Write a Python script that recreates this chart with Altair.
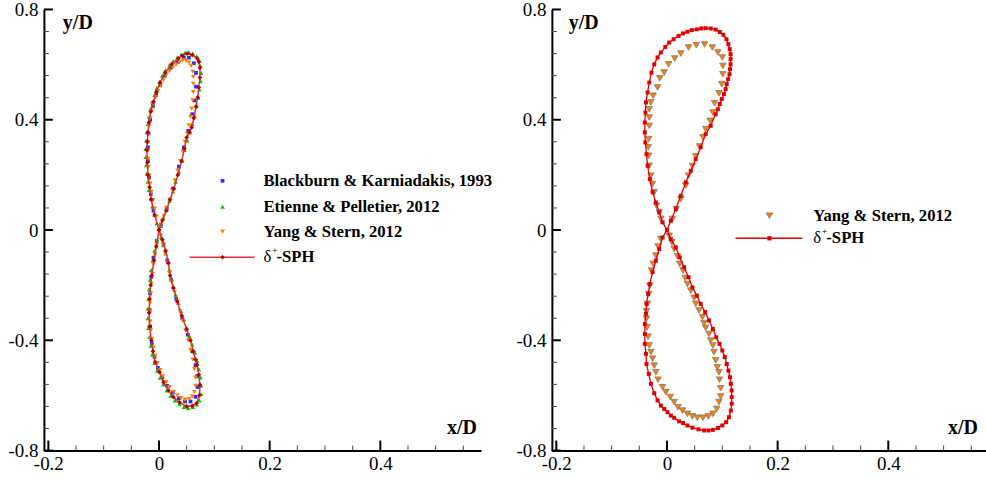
import altair as alt
import pandas as pd

# ---------------- data: left panel ----------------
L_sph_x = [0.000, 0.006, 0.013, 0.020, 0.027, 0.034, 0.041, 0.046, 0.050, 0.055, 0.059, 0.063, 0.067, 0.070, 0.072, 0.074, 0.074, 0.072, 0.069, 0.060, 0.051, 0.042, 0.035, 0.023, 0.011, 0.002, -0.005, -0.010, -0.015, -0.018, -0.020, -0.021, -0.022, -0.021, -0.020, -0.017, -0.014, -0.008,
           0.000, 0.006, 0.012, 0.017, 0.020, 0.026, 0.033, 0.041, 0.050, 0.057, 0.062, 0.066, 0.069, 0.072, 0.074, 0.073, 0.068, 0.060, 0.050, 0.037, 0.026, 0.017, 0.008, 0.001, -0.007, -0.011, -0.014, -0.017, -0.018, -0.017, -0.015, -0.013, -0.009, -0.005, 0.000]
L_sph_y = [0.000, 0.035, 0.070, 0.110, 0.150, 0.200, 0.250, 0.295, 0.336, 0.355, 0.372, 0.406, 0.448, 0.481, 0.517, 0.553, 0.589, 0.610, 0.622, 0.635, 0.640, 0.633, 0.622, 0.601, 0.571, 0.535, 0.501, 0.465, 0.429, 0.390, 0.354, 0.320, 0.290, 0.245, 0.200, 0.155, 0.110, 0.055,
           0.000, -0.035, -0.075, -0.120, -0.165, -0.210, -0.260, -0.310, -0.360, -0.400, -0.440, -0.470, -0.489, -0.525, -0.562, -0.600, -0.628, -0.638, -0.640, -0.625, -0.606, -0.582, -0.552, -0.516, -0.479, -0.440, -0.400, -0.350, -0.300, -0.250, -0.200, -0.165, -0.110, -0.060, 0.000]

L_et_x = [0.003, 0.008, 0.014, 0.019, 0.025, 0.030, 0.036, 0.041, 0.046, 0.051, 0.056, 0.060, 0.064, 0.068, 0.071, 0.073, 0.075, 0.076, 0.075, 0.073, 0.068, 0.061, 0.054, 0.047, 0.040, 0.033, 0.026, 0.019, 0.012, 0.006, 0.001, -0.004, -0.008, -0.012, -0.015, -0.018, -0.020, -0.022, -0.023, -0.024, -0.024, -0.023, -0.022, -0.020, -0.018, -0.015, -0.012, -0.008, -0.004,
          0.004, 0.008, 0.012, 0.016, 0.019, 0.022, 0.026, 0.030, 0.035, 0.040, 0.045, 0.050, 0.055, 0.060, 0.065, 0.069, 0.072, 0.075, 0.076, 0.076, 0.073, 0.068, 0.061, 0.053, 0.045, 0.037, 0.029, 0.021, 0.014, 0.008, 0.002, -0.003, -0.008, -0.012, -0.015, -0.017, -0.019, -0.020, -0.020, -0.019, -0.018, -0.016, -0.014, -0.011, -0.008, -0.004]
L_et_y = [0.015, 0.045, 0.075, 0.105, 0.140, 0.175, 0.210, 0.250, 0.290, 0.325, 0.355, 0.385, 0.415, 0.450, 0.480, 0.510, 0.540, 0.570, 0.595, 0.615, 0.630, 0.640, 0.645, 0.643, 0.636, 0.626, 0.613, 0.598, 0.580, 0.560, 0.538, 0.515, 0.490, 0.465, 0.440, 0.412, 0.385, 0.355, 0.325, 0.295, 0.265, 0.235, 0.205, 0.175, 0.145, 0.115, 0.085, 0.055, 0.025,
          -0.025, -0.055, -0.085, -0.115, -0.145, -0.175, -0.205, -0.235, -0.265, -0.295, -0.325, -0.355, -0.385, -0.415, -0.445, -0.475, -0.505, -0.535, -0.565, -0.595, -0.618, -0.633, -0.642, -0.646, -0.642, -0.632, -0.618, -0.601, -0.582, -0.560, -0.536, -0.510, -0.482, -0.452, -0.420, -0.388, -0.355, -0.320, -0.285, -0.250, -0.215, -0.180, -0.145, -0.110, -0.075, -0.040]

L_bk_x = [0.004, 0.014, 0.025, 0.036, 0.045, 0.053, 0.060, 0.064, 0.067, 0.067, 0.063, 0.054, 0.045, 0.034, 0.022, 0.011, 0.002, -0.005, -0.011, -0.016, -0.019, -0.020, -0.020, -0.018, -0.015, -0.010,
          0.008, 0.015, 0.022, 0.031, 0.042, 0.052, 0.060, 0.066, 0.069, 0.070, 0.066, 0.057, 0.047, 0.036, 0.025, 0.015, 0.006, -0.002, -0.008, -0.013, -0.016, -0.017, -0.016, -0.014, -0.010, -0.004]
L_bk_y = [0.020, 0.080, 0.150, 0.230, 0.300, 0.360, 0.420, 0.470, 0.520, 0.570, 0.605, 0.625, 0.625, 0.610, 0.590, 0.560, 0.525, 0.490, 0.450, 0.400, 0.350, 0.300, 0.250, 0.190, 0.130, 0.070,
          -0.050, -0.110, -0.180, -0.250, -0.320, -0.380, -0.440, -0.490, -0.530, -0.570, -0.605, -0.622, -0.622, -0.610, -0.590, -0.565, -0.535, -0.500, -0.460, -0.410, -0.350, -0.290, -0.230, -0.170, -0.100, -0.040]

L_ys_x = [0.004, 0.009, 0.014, 0.019, 0.024, 0.029, 0.034, 0.039, 0.043, 0.047, 0.051, 0.054, 0.057, 0.059, 0.061, 0.062, 0.062, 0.062, 0.061, 0.058, 0.054, 0.049, 0.043, 0.037, 0.031, 0.025, 0.019, 0.013, 0.008, 0.003, -0.002, -0.006, -0.010, -0.013, -0.016, -0.018, -0.019, -0.020, -0.020, -0.020, -0.019, -0.018, -0.016, -0.014, -0.011, -0.008, -0.005,
          0.003, 0.007, 0.011, 0.015, 0.019, 0.023, 0.028, 0.033, 0.038, 0.043, 0.048, 0.053, 0.057, 0.061, 0.064, 0.066, 0.066, 0.064, 0.060, 0.054, 0.047, 0.040, 0.033, 0.026, 0.019, 0.013, 0.007, 0.002, -0.003, -0.007, -0.010, -0.013, -0.015, -0.016, -0.016, -0.016, -0.015, -0.014, -0.012, -0.010, -0.007, -0.004]
L_ys_y = [0.020, 0.050, 0.080, 0.110, 0.145, 0.180, 0.215, 0.250, 0.285, 0.320, 0.350, 0.380, 0.410, 0.440, 0.470, 0.500, 0.530, 0.555, 0.575, 0.595, 0.607, 0.614, 0.615, 0.609, 0.600, 0.589, 0.576, 0.561, 0.544, 0.525, 0.504, 0.482, 0.458, 0.432, 0.405, 0.377, 0.348, 0.318, 0.288, 0.258, 0.228, 0.198, 0.168, 0.138, 0.108, 0.078, 0.048,
          -0.020, -0.050, -0.085, -0.120, -0.155, -0.190, -0.225, -0.260, -0.295, -0.330, -0.365, -0.400, -0.435, -0.470, -0.505, -0.535, -0.565, -0.588, -0.604, -0.613, -0.616, -0.610, -0.600, -0.587, -0.570, -0.552, -0.531, -0.508, -0.483, -0.456, -0.427, -0.396, -0.364, -0.331, -0.297, -0.263, -0.229, -0.195, -0.160, -0.125, -0.090, -0.055]

# ---------------- data: right panel ----------------
R_sph_x = [0.000, 0.007, 0.016, 0.025, 0.034, 0.043, 0.052, 0.061, 0.070, 0.079, 0.088, 0.092, 0.0955, 0.099, 0.103, 0.106, 0.108, 0.1105, 0.113, 0.114, 0.115, 0.115, 0.115, 0.1135, 0.111, 0.1075, 0.102, 0.0955, 0.088, 0.079, 0.070, 0.062, 0.054, 0.045, 0.037, 0.029, 0.021, 0.012, 0.004, -0.003, -0.011, -0.017, -0.023, -0.028, -0.032, -0.035, -0.038, -0.039, -0.040, -0.040, -0.039, -0.037, -0.035, -0.031, -0.026, -0.020, -0.014, -0.008,
           0.000, 0.007, 0.016, 0.023, 0.031, 0.039, 0.046, 0.054, 0.061, 0.069, 0.076, 0.083, 0.089, 0.095, 0.100, 0.1045, 0.108, 0.111, 0.114, 0.1155, 0.117, 0.117, 0.117, 0.1155, 0.112, 0.107, 0.100, 0.092, 0.083, 0.075, 0.067, 0.057, 0.046, 0.037, 0.029, 0.022, 0.013, 0.007, 0.001, -0.005, -0.011, -0.017, -0.023, -0.029, -0.033, -0.037, -0.038, -0.040, -0.040, -0.040, -0.038, -0.037, -0.034, -0.031, -0.026, -0.020, -0.014, -0.008, 0.000]
R_sph_y = [0.000, 0.034, 0.076, 0.124, 0.173, 0.215, 0.257, 0.300, 0.348, 0.378, 0.420, 0.438, 0.457, 0.475, 0.493, 0.511, 0.529, 0.547, 0.565, 0.583, 0.601, 0.620, 0.638, 0.656, 0.674, 0.692, 0.708, 0.718, 0.727, 0.731, 0.732, 0.731, 0.728, 0.725, 0.719, 0.713, 0.704, 0.692, 0.680, 0.664, 0.644, 0.626, 0.601, 0.571, 0.535, 0.499, 0.463, 0.426, 0.390, 0.354, 0.318, 0.275, 0.233, 0.185, 0.137, 0.100, 0.064, 0.028,
           0.000, -0.033, -0.063, -0.099, -0.135, -0.171, -0.208, -0.238, -0.268, -0.298, -0.328, -0.359, -0.389, -0.413, -0.437, -0.461, -0.486, -0.510, -0.534, -0.558, -0.582, -0.606, -0.630, -0.655, -0.679, -0.697, -0.709, -0.718, -0.725, -0.727, -0.727, -0.723, -0.717, -0.709, -0.700, -0.694, -0.681, -0.673, -0.661, -0.649, -0.637, -0.618, -0.592, -0.558, -0.522, -0.486, -0.449, -0.413, -0.377, -0.341, -0.304, -0.268, -0.232, -0.196, -0.153, -0.111, -0.069, -0.027, 0.000]

R_ys_x = [0.039, 0.053, 0.068, 0.082, 0.092, 0.100, 0.101, 0.101, 0.099, 0.094, 0.086, 0.083, 0.078, 0.070, 0.065, 0.059, 0.052, 0.046, 0.039, 0.034, 0.025, 0.017, 0.010,
          -0.011, -0.014, -0.019, -0.023, -0.026, -0.029, -0.032, -0.033, -0.034, -0.033, -0.032, -0.032, -0.032, -0.029, -0.025, -0.017, -0.013, -0.005, 0.003, 0.014, 0.025,
          -0.011, -0.016, -0.020, -0.025, -0.028, -0.031, -0.033, -0.035, -0.037, -0.037, -0.036, -0.034, -0.032, -0.029, -0.026, -0.023, -0.020, -0.016, -0.008, -0.002, 0.006, 0.013, 0.020, 0.028, 0.037, 0.046, 0.055, 0.065, 0.075, 0.083, 0.090, 0.094, 0.097, 0.097, 0.095, 0.094, 0.091, 0.088, 0.085, 0.083, 0.079, 0.076, 0.070, 0.067, 0.064, 0.058, 0.052, 0.049, 0.043, 0.037, 0.033, 0.029, 0.023, 0.019, 0.013, 0.009, 0.004]
R_ys_y = [0.662, 0.670, 0.673, 0.662, 0.644, 0.626, 0.595, 0.565, 0.529, 0.496, 0.460, 0.426, 0.396, 0.366, 0.336, 0.303, 0.267, 0.232, 0.197, 0.161, 0.112, 0.076, 0.040,
          0.040, 0.064, 0.088, 0.137, 0.167, 0.197, 0.233, 0.269, 0.300, 0.330, 0.378, 0.408, 0.438, 0.463, 0.487, 0.517, 0.550, 0.571, 0.601, 0.622, 0.640,
          -0.033, -0.060, -0.093, -0.123, -0.147, -0.202, -0.232, -0.268, -0.295, -0.322, -0.353, -0.387, -0.419, -0.443, -0.467, -0.492, -0.516, -0.543, -0.570, -0.588, -0.606, -0.624, -0.643, -0.655, -0.667, -0.676, -0.681, -0.681, -0.676, -0.667, -0.649, -0.624, -0.604, -0.574, -0.543, -0.516, -0.498, -0.473, -0.443, -0.419, -0.401, -0.377, -0.355, -0.338, -0.316, -0.292, -0.268, -0.246, -0.220, -0.196, -0.174, -0.147, -0.123, -0.095, -0.069, -0.045, -0.021]

# ---------------- axes ----------------
X_MAJOR = [-0.2, 0.0, 0.2, 0.4]
X_MINOR = [-0.15, -0.1, -0.05, 0.05, 0.1, 0.15, 0.25, 0.3, 0.35, 0.45, 0.5, 0.55]
Y_MAJOR = [-0.8, -0.4, 0.0, 0.4, 0.8]
Y_MINOR = [-0.72, -0.64, -0.56, -0.48, -0.32, -0.24, -0.16, -0.08, 0.08, 0.16, 0.24, 0.32, 0.48, 0.56, 0.64, 0.72]

XMIN = -0.208
L_XMAX = 0.582
R_XMAX = 0.5766
PW_L = 438
PW_R = 435
PH = 442
FONT = "Liberation Serif"
LEG = 16.7
LBL = "datum.value == 0 ? '0' : (datum.value < 0 ? '-' + format(-datum.value, '.1f') : format(datum.value, '.1f'))"

one = pd.DataFrame({"a": [0]})


def pts(xs, ys):
    return pd.DataFrame({"x": xs, "y": ys, "i": list(range(len(xs)))})


def enc(xmax):
    X = alt.X("x:Q", scale=alt.Scale(domain=[XMIN, xmax], nice=False, zero=False),
              axis=alt.Axis(values=X_MAJOR, labelExpr=LBL, ticks=False, grid=False,
                            domainColor="black", domainWidth=2, labelFont=FONT,
                            labelFontSize=19, labelColor="black", labelPadding=4,
                            labelFlush=False, title=None))
    Y = alt.Y("y:Q", scale=alt.Scale(domain=[-0.8, 0.8], nice=False, zero=False),
              axis=alt.Axis(values=Y_MAJOR, labelExpr=LBL, ticks=False, grid=False,
                            domainColor="black", domainWidth=2, labelFont=FONT,
                            labelFontSize=19, labelColor="black", labelPadding=6,
                            labelFlush=False, title=None))
    return X, Y


def tick_layers(X, Y):
    return [
        alt.Chart(pd.DataFrame({"x": X_MAJOR})).mark_rule(color="black", strokeWidth=2).encode(
            x=X, y=alt.value(PH), y2=alt.value(PH - 10)),
        alt.Chart(pd.DataFrame({"x": X_MINOR})).mark_rule(color="#444", strokeWidth=1).encode(
            x=X, y=alt.value(PH), y2=alt.value(PH - 5)),
        alt.Chart(pd.DataFrame({"y": Y_MAJOR})).mark_rule(color="black", strokeWidth=2).encode(
            y=Y, x=alt.value(0), x2=alt.value(9)),
        alt.Chart(pd.DataFrame({"y": Y_MINOR})).mark_rule(color="#444", strokeWidth=1).encode(
            y=Y, x=alt.value(0), x2=alt.value(5)),
    ]


def text(px, py, s, size=LEG, bold=True, align="left", baseline="middle"):
    return alt.Chart(one).mark_text(text=s, font=FONT, fontSize=size,
                                    fontWeight="bold" if bold else "normal",
                                    align=align, baseline=baseline, color="black").encode(
        x=alt.value(px), y=alt.value(py))


def sym(px, py, shape, fill, size, stroke=None):
    kw = dict(shape=shape, filled=True, fill=fill, size=size, opacity=1)
    if stroke:
        kw.update(stroke=stroke, strokeWidth=0.8)
    else:
        kw.update(strokeWidth=0)
    return alt.Chart(one).mark_point(**kw).encode(x=alt.value(px), y=alt.value(py))


def hline(x1, x2, py, color):
    return alt.Chart(one).mark_rule(color=color, strokeWidth=1.5).encode(
        x=alt.value(x1), x2=alt.value(x2), y=alt.value(py))


def sph_label(px, py):
    return [text(px, py, "δ", bold=False),
            text(px + 8.5, py - 6, "+", size=10, bold=False),
            text(px + 13, py, "-SPH", bold=True)]


# ---------------- left panel ----------------
XL, YL = enc(L_XMAX)
BLUE, GREEN, ORANGE = "#2a2aff", "#00c800", "#ff8000"
RED_LINE, RED_DARK = "#e0303a", "#b40000"

left_layers = tick_layers(XL, YL) + [
    alt.Chart(pts(L_bk_x, L_bk_y)).mark_point(shape="square", filled=True, fill=BLUE,
                                              size=14, strokeWidth=0, opacity=1).encode(x=XL, y=YL),
    alt.Chart(pts(L_et_x, L_et_y)).mark_point(shape="triangle-up", filled=True, fill=GREEN,
                                              size=22, strokeWidth=0, opacity=1).encode(x=XL, y=YL),
    alt.Chart(pts(L_ys_x, L_ys_y)).mark_point(shape="triangle-down", filled=True, fill=ORANGE,
                                              size=24, strokeWidth=0, opacity=1).encode(x=XL, y=YL),
    alt.Chart(pts(L_sph_x, L_sph_y)).mark_line(color=RED_LINE, strokeWidth=1.5).encode(
        x=XL, y=YL, order="i:Q"),
    alt.Chart(pts(L_sph_x, L_sph_y)).mark_point(shape="diamond", filled=True, fill=RED_DARK,
                                                size=22, strokeWidth=0, opacity=1).encode(x=XL, y=YL),
    text(19, 20, "y/D", size=20, baseline="alphabetic"),
    text(404, 425, "x/D", size=20, baseline="alphabetic"),
    sym(179, 171.7, "square", BLUE, 14),
    text(220, 171.7, "Blackburn & Karniadakis, 1993"),
    sym(179, 197.7, "triangle-up", GREEN, 22),
    text(220, 197.7, "Etienne & Pelletier, 2012"),
    sym(179, 222.7, "triangle-down", ORANGE, 24),
    text(220, 222.7, "Yang & Stern, 2012"),
    hline(146, 211, 248.3, RED_LINE),
    sym(179, 248.3, "diamond", RED_DARK, 22),
] + sph_label(220, 248.3)

left = alt.layer(*left_layers).properties(width=PW_L, height=PH)

# ---------------- right panel ----------------
XR, YR = enc(R_XMAX)
RED = "#e00000"
right_layers = tick_layers(XR, YR) + [
    alt.Chart(pts(R_ys_x, R_ys_y)).mark_point(shape="triangle-down", filled=True, fill=ORANGE,
                                              size=42, stroke="#7a7a7a", strokeWidth=0.8,
                                              opacity=1).encode(x=XR, y=YR),
    alt.Chart(pts(R_sph_x, R_sph_y)).mark_line(color=RED, strokeWidth=1.3).encode(
        x=XR, y=YR, order="i:Q"),
    alt.Chart(pts(R_sph_x, R_sph_y)).mark_point(shape="square", filled=True, fill=RED,
                                                size=16, strokeWidth=0, opacity=1).encode(x=XR, y=YR),
    text(17, 20, "y/D", size=20, baseline="alphabetic"),
    text(397, 425, "x/D", size=20, baseline="alphabetic"),
    sym(218, 206.7, "triangle-down", ORANGE, 42, stroke="#7a7a7a"),
    text(262, 206.7, "Yang & Stern, 2012"),
    hline(184, 251, 229.3, RED),
    sym(218, 229.3, "square", RED, 18),
] + sph_label(262, 229.3)

right = alt.layer(*right_layers).properties(width=PW_R, height=PH)

chart = alt.hconcat(left, right, spacing=22).properties(
    padding={"left": 7, "top": 0, "right": 0, "bottom": 0}
).configure(font=FONT).configure_view(stroke=None).configure_axis(
    labelFont=FONT, labelFontSize=19, titleFont=FONT
).configure_text(font=FONT)

chart.save("out.html", embed_options={"renderer": "svg", "actions": False})
